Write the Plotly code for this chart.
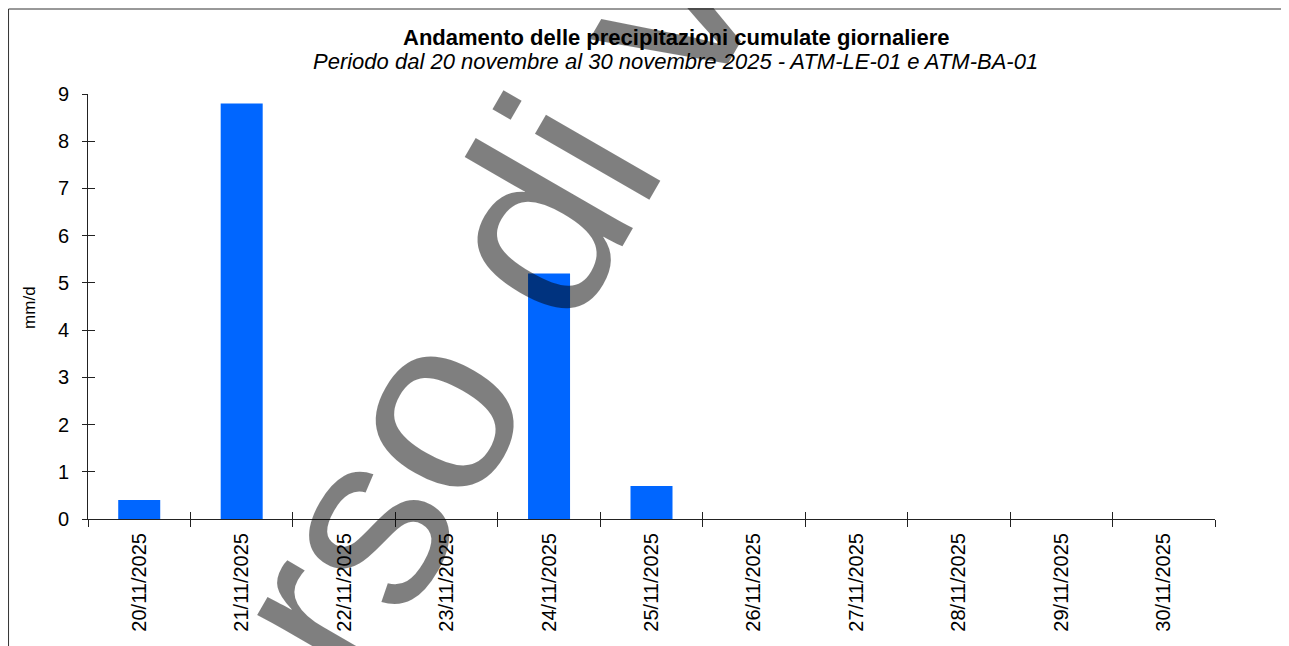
import plotly.graph_objects as go

dates = ["20/11/2025", "21/11/2025", "22/11/2025", "23/11/2025", "24/11/2025",
         "25/11/2025", "26/11/2025", "27/11/2025", "28/11/2025", "29/11/2025",
         "30/11/2025"]
rain_mm = [0.4, 8.8, 0.0, 0.0, 5.2, 0.7, 0.0, 0.0, 0.0, 0.0, 0.0]
y_ticks = [0, 1, 2, 3, 4, 5, 6, 7, 8, 9]

title = "Andamento delle precipitazioni cumulate giornaliere"
subtitle = "Periodo dal 20 novembre al 30 novembre 2025 - ATM-LE-01 e ATM-BA-01"
watermark = "in corso di validazione"

FONT = "Liberation Sans, Arial, sans-serif"

fig = go.Figure(go.Bar(
    x=dates,
    y=rain_mm,
    width=0.41,
    marker=dict(color="#0066FF", line=dict(width=0)),
    showlegend=False,
))

# second (empty) axes only to draw the inner half of the cross ticks
fig.add_trace(go.Scatter(x=[None], y=[None], xaxis="x2", yaxis="y2",
                         showlegend=False, hoverinfo="skip"))

n = len(dates)
fig.update_layout(
    width=1281, height=638,
    paper_bgcolor="white", plot_bgcolor="white",
    margin=dict(l=80, r=74, t=86, b=127),
    font=dict(family=FONT, color="black"),
    xaxis=dict(
        type="category", range=[-0.5, n - 0.5],
        showline=True, linecolor="#222", linewidth=1,
        ticks="outside", ticklen=7, tickcolor="#222", tickson="boundaries",
        tickangle=-90, tickfont=dict(size=20), ticklabelstandoff=5,
        showgrid=False, zeroline=False,
    ),
    yaxis=dict(
        range=[0, 9], tickvals=y_ticks,
        showline=True, linecolor="#222", linewidth=1,
        ticks="outside", ticklen=5, tickcolor="#222",
        tickfont=dict(size=20), ticklabelstandoff=9,
        showgrid=False, zeroline=False,
    ),
    xaxis2=dict(
        overlaying="x", range=[-0.5, n - 0.5],
        tickvals=[i - 0.5 for i in range(n + 1)],
        ticks="inside", ticklen=7, tickcolor="#222",
        showticklabels=False, showgrid=False, zeroline=False, showline=False,
    ),
    yaxis2=dict(
        overlaying="y", range=[0, 9], tickvals=y_ticks,
        ticks="inside", ticklen=7, tickcolor="#222",
        showticklabels=False, showgrid=False, zeroline=False, showline=False,
    ),
    bargap=0.59,
    shapes=[dict(type="rect", xref="paper", yref="paper",
                 x0=-0.0705, x1=1.0645, y0=-0.4, y1=1.2,
                 line=dict(color="#333", width=1), layer="below")],
    annotations=[
        dict(text="<b>" + title + "</b>", xref="paper", yref="paper",
             x=0.5217, y=1.134, xanchor="center", yanchor="middle",
             showarrow=False, font=dict(size=22)),
        dict(text="<i>" + subtitle + "</i>", xref="paper", yref="paper",
             x=0.5217, y=1.0776, xanchor="center", yanchor="middle",
             showarrow=False, font=dict(size=22)),
        dict(text="mm/d", xref="paper", yref="paper",
             x=-0.0515, y=0.499, xanchor="center", yanchor="middle",
             textangle=-90, showarrow=False, font=dict(size=17)),
        dict(text=watermark, xref="paper", yref="paper",
             x=0.4889, y=1.117,
             xanchor="center", yanchor="middle", textangle=-60,
             showarrow=False, font=dict(size=250, color="rgba(0,0,0,0.5)")),
    ],
)

fig.write_html("out.html")
